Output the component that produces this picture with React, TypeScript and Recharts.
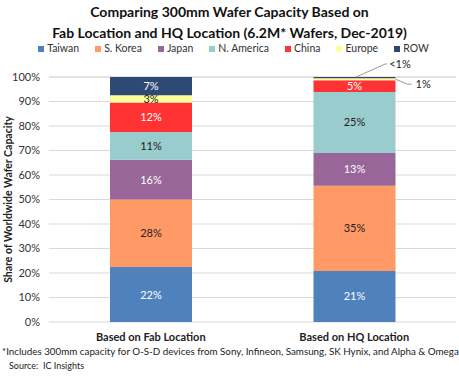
import React from 'react';
import { BarChart, Bar, XAxis, YAxis, CartesianGrid, LabelList } from 'recharts';

const categories = ['Based on Fab Location', 'Based on HQ Location'];
const regions = ['Taiwan', 'S. Korea', 'Japan', 'N. America', 'China', 'Europe', 'ROW'];
const taiwan = [22.4, 20.8];
const sKorea = [27.6, 34.8];
const japan = [16.2, 13.4];
const nAmerica = [11.4, 24.9];
const china = [12.0, 4.8];
const europe = [3.0, 0.8];
const row = [7.4, 0.5];
const yTicks = [0, 10, 20, 30, 40, 50, 60, 70, 80, 90, 100];

const series = [taiwan, sKorea, japan, nAmerica, china, europe, row];
const COLORS = ['#4F81BD', '#FF9966', '#996699', '#99CCCC', '#FF3333', '#FFFF99', '#2E4A74'];
const LABEL_COLORS = ['#fff', '#222', '#fff', '#222', '#fff', '#222', '#fff'];
const FONT = 'Lato, "Open Sans", sans-serif';

const data = categories.map((name, i) => {
  const d: Record<string, string | number> = { name };
  regions.forEach((r, j) => { d[r] = series[j][i]; });
  return d;
});

const fmt = (v: number) => (v < 0.6 ? '<1%' : Math.round(v) + '%');

const makeLabel = (idx: number) => (props: any) => {
  const { x, y, width, height, value } = props;
  const v = Number(value);
  if (height >= 5) {
    return (
      <text x={x + width / 2} y={y + height / 2} dy="0.36em" textAnchor="middle"
        fill={LABEL_COLORS[idx]} fontSize={11} fontFamily={FONT}>{fmt(v)}</text>
    );
  }
  if (regions[idx] === 'ROW') {
    const sx = x + width * 0.52;
    return (
      <g>
        <polyline points={`${sx},${y} ${sx + 29},${y - 13} ${sx + 31},${y - 13}`} fill="none" stroke="#999" strokeWidth={1} />
        <text x={sx + 33} y={y - 13} dy="0.36em" fill="#222" fontSize={11} fontFamily={FONT}>{fmt(v)}</text>
      </g>
    );
  }
  const sx = x + width;
  const sy = y + height / 2;
  return (
    <g>
      <polyline points={`${sx},${sy} ${sx + 12},${sy + 5} ${sx + 16},${sy + 5}`} fill="none" stroke="#999" strokeWidth={1} />
      <text x={sx + 20} y={sy + 5} dy="0.36em" fill="#222" fontSize={11} fontFamily={FONT}>{fmt(v)}</text>
    </g>
  );
};

const YTitle = (props: any) => {
  const { viewBox } = props;
  const cx = 8;
  const cy = viewBox.y + viewBox.height / 2;
  return (
    <text x={cx} y={cy} transform={`rotate(-90, ${cx}, ${cy})`} textAnchor="middle" dy="0.36em"
      fontSize={10.5} fontWeight="bold" fontFamily={FONT} fill="#222">
      Share of Worldwide Wafer Capacity
    </text>
  );
};

const titleStyle: React.CSSProperties = {
  position: 'absolute', left: 0, width: 459, textAlign: 'center', fontWeight: 'bold',
  fontSize: 14, lineHeight: '16px', height: 16, color: '#111', whiteSpace: 'nowrap',
};

export default function App() {
  return (
    <div style={{ position: 'absolute', left: 0, top: 0, width: 459, height: 376, background: '#fff', fontFamily: FONT }}>
      <div style={{ ...titleStyle, top: 4 }}>Comparing 300mm Wafer Capacity Based on</div>
      <div style={{ ...titleStyle, top: 25 }}>Fab Location and HQ Location (6.2M* Wafers, Dec-2019)</div>
      <div style={{ position: 'absolute', top: 44, left: 4, width: 459, height: 9, display: 'flex', justifyContent: 'center', gap: 16, fontSize: 10.5, lineHeight: '9px', color: '#333' }}>
        {regions.map((r, i) => (
          <div key={r} style={{ display: 'flex', alignItems: 'center' }}>
            <span style={{ width: 6, height: 6, background: COLORS[i], display: 'inline-block', marginRight: 3 }} />
            <span>{r}</span>
          </div>
        ))}
      </div>
      <BarChart width={459} height={376} data={data} margin={{ top: 77, right: 3, bottom: 24, left: 9 }} barSize={82}
        style={{ position: 'absolute', left: 0, top: 0 }}>
        <CartesianGrid vertical={false} stroke="#D9D9D9" />
        <XAxis dataKey="name" height={30} axisLine={false} tickLine={false} tickSize={0} tickMargin={11}
          tick={{ fontSize: 11, fontWeight: 'bold', fill: '#222', fontFamily: FONT }} />
        <YAxis width={40} domain={[0, 100]} ticks={yTicks} axisLine={false} tickLine={false} tickSize={0} tickMargin={9}
          tickFormatter={(v: number) => v + '%'} tick={{ fontSize: 11, fill: '#333', fontFamily: FONT }}
          label={<YTitle />} />
        {regions.map((r, i) => (
          <Bar key={r} dataKey={r} stackId="a" fill={COLORS[i]} isAnimationActive={false}>
            <LabelList dataKey={r} content={makeLabel(i)} />
          </Bar>
        ))}
      </BarChart>
      <div style={{ position: 'absolute', top: 345, left: 2, fontSize: 9.8, color: '#222', whiteSpace: 'nowrap' }}>
        *Includes 300mm capacity for O-S-D devices from Sony, Infineon, Samsung, SK Hynix, and Alpha &amp; Omega
      </div>
      <div style={{ position: 'absolute', top: 360, left: 9, fontSize: 9, color: '#222' }}>
        Source:&nbsp; IC Insights
      </div>
    </div>
  );
}
